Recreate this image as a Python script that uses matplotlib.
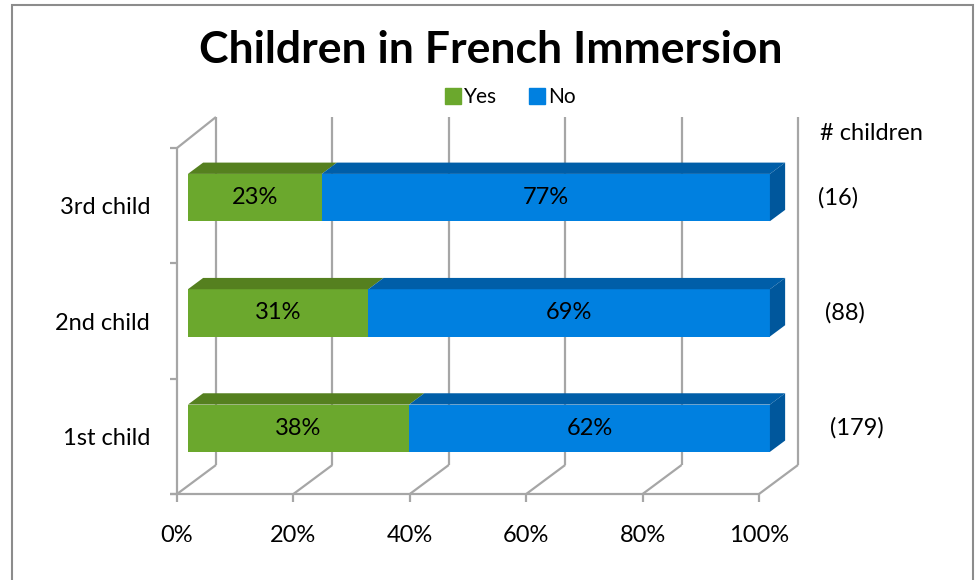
import numpy as np
import matplotlib
matplotlib.use("Agg")
import matplotlib.pyplot as plt
from matplotlib.patches import Polygon, Rectangle
from matplotlib.lines import Line2D
from matplotlib.transforms import Affine2D, IdentityTransform

# data
categories = ["1st child", "2nd child", "3rd child"]
yes_pct = [38, 31, 23]
no_pct = [62, 69, 77]
n_children = [179, 88, 16]
x_ticks = [0, 20, 40, 60, 80, 100]
series_names = ["Yes", "No"]

# style
GREEN = ["#6ba82d", "#55801f"]          # front, top
BLUE = ["#0080e0", "#005ea8", "#00579c"]  # front, top, end
GRID = "#a6a6a6"
DEPTH = np.array([39.0, 29.0])           # full floor depth in pixels
F0, F1 = 0.28, 0.67                      # bar front/back position in depth
HALF = 0.205                              # half bar height (category units)
FS = 17

plt.rcParams["font.family"] = ["Lato", "DejaVu Sans"]

W, H = 976, 580
fig = plt.figure(figsize=(W / 100, H / 100), dpi=100)
ax = fig.add_axes([177 / W, (H - 494) / H, (759 - 177) / W, (494 - 148) / H])
ax.set_xlim(0, 100); ax.set_ylim(-0.5, 2.5); ax.axis("off")
ax.set_autoscale_on(False)

def proj(x, y, d):
    return ax.transData.transform((x, y)) + d * DEPTH

def shift(dx, dy):
    return ax.transData + Affine2D().translate(dx, dy)

def line(p, q):
    ax.add_line(Line2D([p[0], q[0]], [p[1], q[1]], transform=IdentityTransform(),
                       color=GRID, lw=1.6, solid_capstyle="butt", clip_on=False, zorder=1))

def poly(pts, color):
    ax.add_patch(Polygon(pts, closed=True, transform=IdentityTransform(), clip_on=False,
                         facecolor=color, edgecolor="none", zorder=3))

# walls, floor, gridlines
for xt in x_ticks:
    line(proj(xt, -0.5, 1), proj(xt, 2.5, 1) + [0, 2])
    line(proj(xt, -0.5, 0), proj(xt, -0.5, 1))
    line(proj(xt, -0.5, 0), proj(xt, -0.5, 0) - [0, 8])
line(proj(0, -0.5, 0) - [7, 0], proj(100, -0.5, 0))
line(proj(0, -0.5, 0), proj(0, 2.5, 0))
line(proj(0, 2.5, 0), proj(0, 2.5, 1) + [0, 2])
for yt in [-0.5, 0.5, 1.5, 2.5]:
    line(proj(0, yt, 0), proj(0, yt, 0) - [7, 0])

# bars
for i in range(len(categories)):
    segs = [(0, yes_pct[i], GREEN, "%d%%" % yes_pct[i]),
            (yes_pct[i], 100, BLUE, "%d%%" % no_pct[i])]
    y0, y1 = i - HALF, i + HALF
    for x0, x1, col, lab in segs:
        poly([proj(x0, y0, F0), proj(x1, y0, F0), proj(x1, y1, F0), proj(x0, y1, F0)], col[0])
        poly([proj(x0, y1, F0), proj(x1, y1, F0), proj(x1, y1, F1), proj(x0, y1, F1)], col[1])
        ax.text((x0 + x1) / 2, i, lab, ha="center", va="center", fontsize=FS,
                transform=shift(*(F0 * DEPTH)), zorder=5)
    poly([proj(100, y0, F0), proj(100, y1, F0), proj(100, y1, F1), proj(100, y0, F1)], BLUE[2])

# axis labels
for xt in x_ticks:
    ax.text(xt, -0.5, "%d%%" % xt, ha="center", va="center", fontsize=FS,
            transform=shift(0, -41))
for i, c in enumerate(categories):
    ax.text(0, i, c, ha="right", va="center", fontsize=FS, transform=shift(-27, -2))

# counts column
ax.text(110.5, 2.63, "# children", ha="left", va="center", fontsize=FS, clip_on=False)
count_x = [112.2, 111.3, 110.1]
for i, n in enumerate(n_children):
    ax.text(count_x[i], i + 0.07, "(%d)" % n, ha="left", va="center", fontsize=FS, clip_on=False)

# title and legend
fig.text(491 / W, 1 - 50 / H, "Children in French Immersion", ha="center", va="center",
         fontsize=32, fontweight="bold")
handles = [Line2D([], [], marker="s", ls="none", ms=11.5, color=c[0]) for c in (GREEN, BLUE)]
fig.legend(handles, series_names, loc="center", bbox_to_anchor=(510 / W, 1 - 97 / H),
           ncol=2, frameon=False, fontsize=15, handletextpad=0.15, columnspacing=1.5,
           handlelength=0.8)

fig.add_artist(Rectangle((12 / W, -0.1), (973 - 12) / W, 1.1 - 5 / H, transform=fig.transFigure,
                         fill=False, edgecolor="#8c8c8c", lw=1.5))

fig.savefig("out.png", dpi=100)
